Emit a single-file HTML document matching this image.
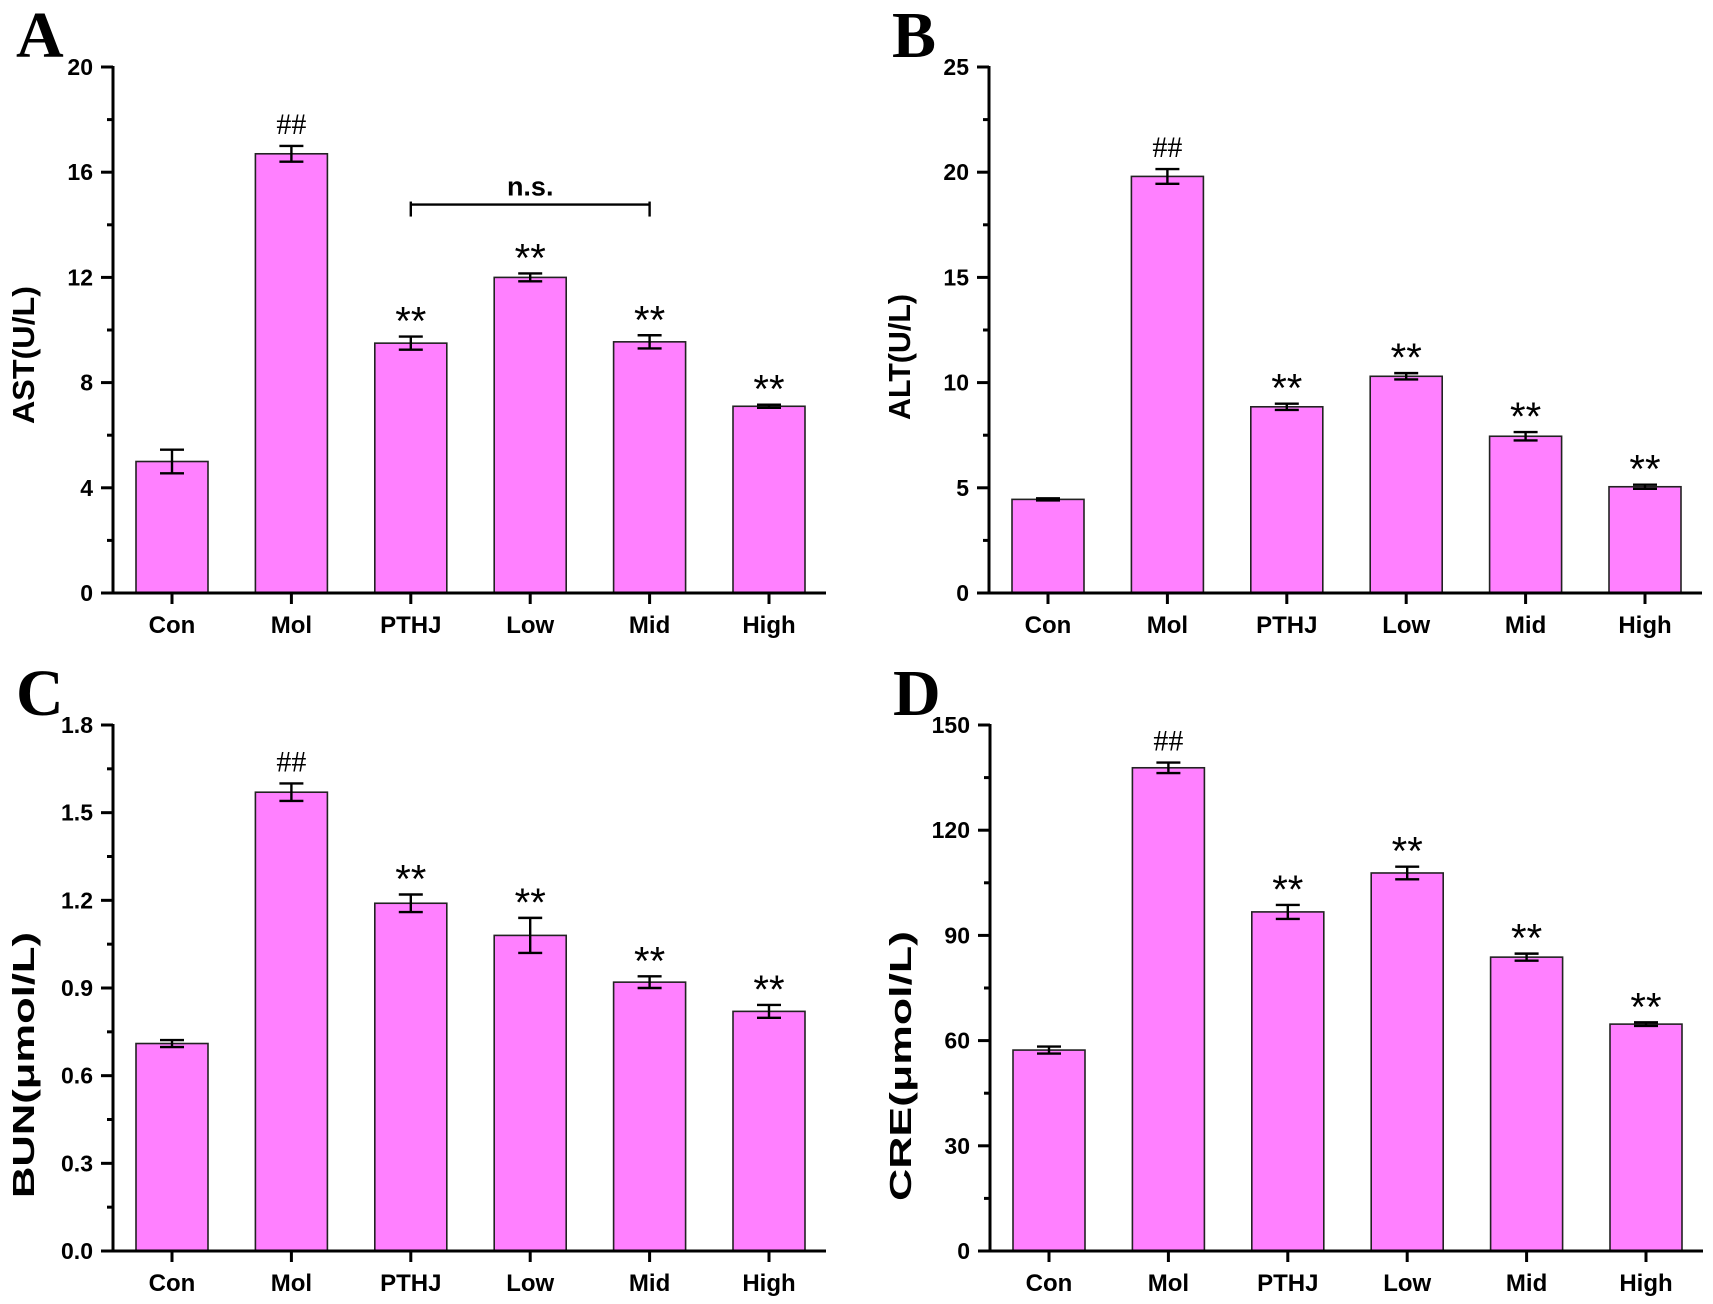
<!DOCTYPE html>
<html><head><meta charset="utf-8"><style>
html,body{margin:0;padding:0;background:#fff;}
svg{display:block;}
</style></head><body>
<svg id="fig" width="1713" height="1304" viewBox="0 0 1713 1304" xmlns="http://www.w3.org/2000/svg"></svg>
<script>
const categories = ["Con","Mol","PTHJ","Low","Mid","High"];
const astValues = [5.0,16.7,9.5,12.0,9.55,7.1];
const astErrors = [0.45,0.3,0.25,0.15,0.25,0.06];
const altValues = [4.45,19.8,8.85,10.3,7.45,5.05];
const altErrors = [0.05,0.35,0.15,0.15,0.2,0.1];
const bunValues = [0.71,1.57,1.19,1.08,0.92,0.82];
const bunErrors = [0.012,0.03,0.03,0.06,0.02,0.022];
const creValues = [57.3,137.8,96.7,107.8,83.8,64.7];
const creErrors = [1.0,1.5,2.0,1.8,1.0,0.5];
const astTicks = ["0","4","8","12","16","20"];
const altTicks = ["0","5","10","15","20","25"];
const bunTicks = ["0.0","0.3","0.6","0.9","1.2","1.5","1.8"];
const creTicks = ["0","30","60","90","120","150"];
const astMarks = ["","##","**","**","**","**"];
const altMarks = ["","##","**","**","**","**"];
const bunMarks = ["","##","**","**","**","**"];
const creMarks = ["","##","**","**","**","**"];

const NS="http://www.w3.org/2000/svg";
const svg=document.getElementById('fig');
const SANS='font-family:"Liberation Sans",Arial,sans-serif;';
const SERIF='font-family:"Liberation Serif","Times New Roman",serif;';
function mk(tag,attrs,parent){const e=document.createElementNS(NS,tag);for(const k in attrs)e.setAttribute(k,attrs[k]);(parent||svg).appendChild(e);return e;}

function panel(cfg){
  const g=mk('g',{});
  
  
  const ticks=cfg.ticks.map(Number);
  const ymax=ticks[ticks.length-1];
  const y=v=>cfg.y0-(v/ymax)*(cfg.y0-cfg.yTop);
  const x=i=>cfg.x0+59+i*119.4;
  const L=mk('text',{x:cfg.x0-97,y:cfg.yTop-10,style:SERIF+'font-weight:bold;font-size:66px;',fill:'#000'},g);
  L.textContent=cfg.letter;
  
  
  cfg.values.forEach((v,i)=>{
    const r=mk('rect',{x:x(i)-36,y:y(v),width:72,height:cfg.y0-y(v),fill:'#ff80ff',stroke:'#222','stroke-width':1.6},g);
    
    
    const e=cfg.errors[i];
    const eg=mk('g',{stroke:'#000','stroke-width':2.4},g);
    
    
    mk('line',{x1:x(i),x2:x(i),y1:y(v+e),y2:y(v-e)},eg);
    mk('line',{x1:x(i)-12,x2:x(i)+12,y1:y(v+e),y2:y(v+e)},eg);
    mk('line',{x1:x(i)-12,x2:x(i)+12,y1:y(v-e),y2:y(v-e)},eg);
    const m=cfg.marks[i];
    if(m){
      const isHash=m==='##';
      const t=mk('text',{x:x(i),y:y(v+e)-(isHash?12:2),'text-anchor':'middle',style:(isHash?SERIF+'font-size:30px;':SANS+'font-size:40px;'),fill:'#000'},g);
      t.textContent=m;
      
      
    }
  });
  const ax=mk('g',{stroke:'#000','stroke-width':3},g);
  
  
  mk('line',{x1:cfg.x0,x2:cfg.x0,y1:cfg.yTop-1,y2:cfg.y0+1.5},ax);
  mk('line',{x1:cfg.x0-1.5,x2:cfg.x0+713,y1:cfg.y0,y2:cfg.y0},ax);
  ticks.forEach((tv,k)=>{
    mk('line',{x1:cfg.x0-12,x2:cfg.x0,y1:y(tv),y2:y(tv)},ax);
    if(k<ticks.length-1){const mv=(tv+ticks[k+1])/2;mk('line',{x1:cfg.x0-6,x2:cfg.x0,y1:y(mv),y2:y(mv)},ax);}
    const t=mk('text',{x:cfg.x0-20,y:y(tv)+8,'text-anchor':'end',style:SANS+'font-size:23px;font-weight:bold;',fill:'#000'},g);
    t.textContent=cfg.ticks[k];
    
    
  });
  categories.forEach((c,i)=>{
    mk('line',{x1:x(i),x2:x(i),y1:cfg.y0,y2:cfg.y0+11},ax);
    const t=mk('text',{x:x(i),y:cfg.y0+40,'text-anchor':'middle',style:SANS+'font-size:24px;font-weight:bold;',fill:'#000'},g);
    t.textContent=c;
    
    
  });
  const yt=mk('text',{x:0,y:0,transform:`translate(${cfg.x0-79},${cfg.titleY}) rotate(-90)`,'text-anchor':'middle',textLength:cfg.titleLen,lengthAdjust:'spacingAndGlyphs',style:SANS+'font-size:31px;font-weight:bold;',fill:'#000'},g);
  yt.textContent=cfg.title;
  
  
  if(cfg.ns){
    const bg=mk('g',{stroke:'#000','stroke-width':2.4},g);
    
    
    const yy=y(cfg.ns);
    mk('line',{x1:x(2),x2:x(4),y1:yy,y2:yy},bg);
    mk('line',{x1:x(2),x2:x(2),y1:yy-3,y2:yy+12},bg);
    mk('line',{x1:x(4),x2:x(4),y1:yy-3,y2:yy+12},bg);
    const t=mk('text',{x:x(3),y:yy-9,'text-anchor':'middle',style:SANS+'font-size:27px;font-weight:bold;',fill:'#000'},g);
    t.textContent='n.s.';
    
    
  }
}
panel({id:'ast',letter:'A',x0:113,y0:593,yTop:67,ticks:astTicks,values:astValues,errors:astErrors,marks:astMarks,title:'AST(U/L)',titleY:355,titleLen:138,ns:14.77});
panel({id:'alt',letter:'B',x0:989,y0:593,yTop:67,ticks:altTicks,values:altValues,errors:altErrors,marks:altMarks,title:'ALT(U/L)',titleY:357,titleLen:126});
panel({id:'bun',letter:'C',x0:113,y0:1251,yTop:725,ticks:bunTicks,values:bunValues,errors:bunErrors,marks:bunMarks,title:'BUN(μmol/L)',titleY:1065,titleLen:266});
panel({id:'cre',letter:'D',x0:990,y0:1251,yTop:725,ticks:creTicks,values:creValues,errors:creErrors,marks:creMarks,title:'CRE(μmol/L)',titleY:1066,titleLen:270});
</script>
</body></html>
